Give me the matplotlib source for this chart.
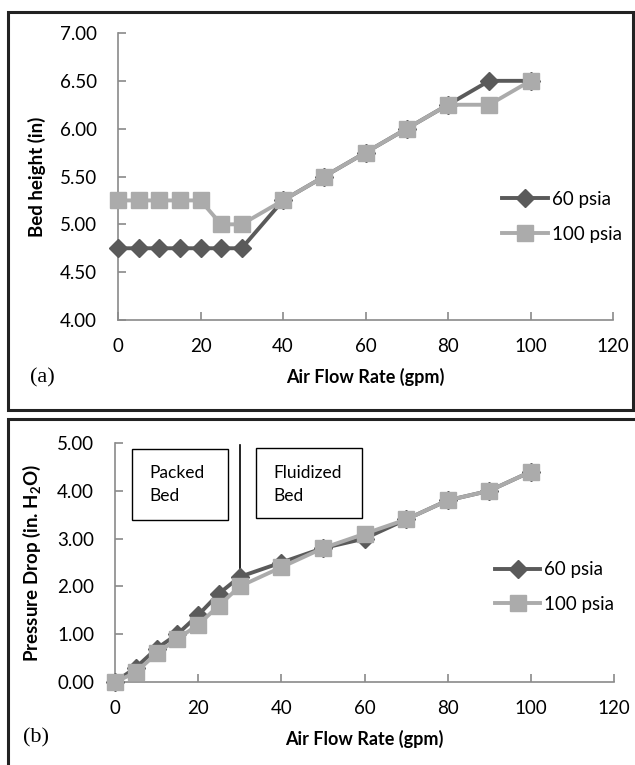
import matplotlib
matplotlib.use("Agg")
import matplotlib.pyplot as plt
from matplotlib.patches import Rectangle

plt.rcParams['font.family'] = ['Lato', 'DejaVu Sans']
plt.rcParams['mathtext.fontset'] = 'custom'
plt.rcParams['mathtext.rm'] = 'Lato'
plt.rcParams['mathtext.bf'] = 'Lato:bold'

# donnees
debit = [0, 5, 10, 15, 20, 25, 30, 40, 50, 60, 70, 80, 90, 100]
hauteur_60 = [4.75, 4.75, 4.75, 4.75, 4.75, 4.75, 4.75, 5.25, 5.5, 5.75, 6.0, 6.25, 6.5, 6.5]
hauteur_100 = [5.25, 5.25, 5.25, 5.25, 5.25, 5.0, 5.0, 5.25, 5.5, 5.75, 6.0, 6.25, 6.25, 6.5]
dp_60 = [0.0, 0.3, 0.7, 1.0, 1.4, 1.85, 2.2, 2.5, 2.8, 3.0, 3.4, 3.8, 4.0, 4.4]
dp_100 = [0.0, 0.2, 0.6, 0.9, 1.2, 1.6, 2.0, 2.4, 2.8, 3.1, 3.4, 3.8, 4.0, 4.4]
series = ['60 psia', '100 psia']
xticks = [0, 20, 40, 60, 80, 100, 120]
yticks_a = [4.0, 4.5, 5.0, 5.5, 6.0, 6.5, 7.0]
yticks_b = [0.0, 1.0, 2.0, 3.0, 4.0, 5.0]
debit_transition = 30

c60 = '#5a5a5a'
c100 = '#ababab'
axe_col = '#8a8a8a'
W, H = 635, 765
fs = 13.5

fig = plt.figure(figsize=(6.35, 7.65), dpi=100)

# cadres noirs autour de chaque graphique
fig.patches.append(Rectangle((8/W, 1 - 410/H), 625/W, 398/H, transform=fig.transFigure,
                             fill=False, edgecolor='#222222', linewidth=2.2))
fig.patches.append(Rectangle((8/W, -0.02), 660/W, 1 - 419/H + 0.02, transform=fig.transFigure,
                             fill=False, edgecolor='#222222', linewidth=2.2))

ax1 = fig.add_axes([118/W, 1 - 320/H, 495/W, 287/H])
ax2 = fig.add_axes([115/W, 1 - 682/H, 499/W, 239/H])


def style(ax, yt):
    for s in ['top', 'right']:
        ax.spines[s].set_visible(False)
    for s in ['left', 'bottom']:
        ax.spines[s].set_color(axe_col)
        ax.spines[s].set_linewidth(1.2)
    ax.set_xlim(0, 120)
    ax.set_xticks(xticks)
    ax.set_yticks(yt)
    ax.set_yticklabels(['%.2f' % v for v in yt])
    ax.set_ylim(yt[0], yt[-1])
    ax.tick_params(direction='in', length=6, color=axe_col, labelsize=fs, width=1.2)
    ax.tick_params(axis='x', pad=13)
    ax.tick_params(axis='y', pad=15)
    ax.set_xlabel('Air Flow Rate (gpm)', fontsize=13, fontweight='bold', labelpad=9)


def courbes(ax, y60, y100):
    ax.plot(debit, y60, '-D', color=c60, lw=2.8, ms=9, label=series[0], clip_on=False, zorder=3)
    ax.plot(debit, y100, '-s', color=c100, lw=2.8, ms=11, label=series[1], clip_on=False, zorder=4)


# (a) hauteur du lit
courbes(ax1, hauteur_60, hauteur_100)
style(ax1, yticks_a)
ax1.set_ylabel('Bed height (in)', fontsize=13.5, fontweight='bold', labelpad=10)
ax1.legend(loc='center left', bbox_to_anchor=(0.776, 0.359), frameon=False, fontsize=fs,
           handlelength=2.45, handletextpad=0.2, labelspacing=0.95,
           borderpad=0, borderaxespad=0)
fig.text(30/W, 1 - 378/H, '(a)', family='Liberation Serif', fontsize=16, va='center')

# (b) perte de charge
courbes(ax2, dp_60, dp_100)
style(ax2, yticks_b)
ax2.set_ylabel('Pressure Drop (in. H$_\\mathbf{2}$O)', fontsize=13.5, fontweight='bold', labelpad=10)
ax2.legend(loc='center left', bbox_to_anchor=(0.762, 0.397), frameon=False, fontsize=fs,
           handlelength=2.4, handletextpad=0.2, labelspacing=0.95,
           borderpad=0, borderaxespad=0)
fig.text(23/W, 1 - 738/H, '(b)', family='Liberation Serif', fontsize=16, va='center')

# limite lit fixe / lit fluidise
y_tr = dp_60[debit.index(debit_transition)]
ax2.axvline(debit_transition, ymin=y_tr / yticks_b[-1] + 0.03, ymax=0.99,
            color='black', lw=1.2, zorder=2)

for (x0, x1, y0, y1, xt), txt in [((0.034, 0.226, 0.678, 0.975, 0.068), 'Packed\nBed'),
                                  ((0.283, 0.495, 0.686, 0.979, 0.317), 'Fluidized\nBed')]:
    ax2.add_patch(Rectangle((x0, y0), x1 - x0, y1 - y0, transform=ax2.transAxes,
                            fill=False, edgecolor='black', lw=1.0, clip_on=False))
    ax2.text(xt, 0.826, txt, transform=ax2.transAxes, fontsize=12.5,
             va='center', ha='left', linespacing=1.55)

fig.savefig('out.png', dpi=100)
